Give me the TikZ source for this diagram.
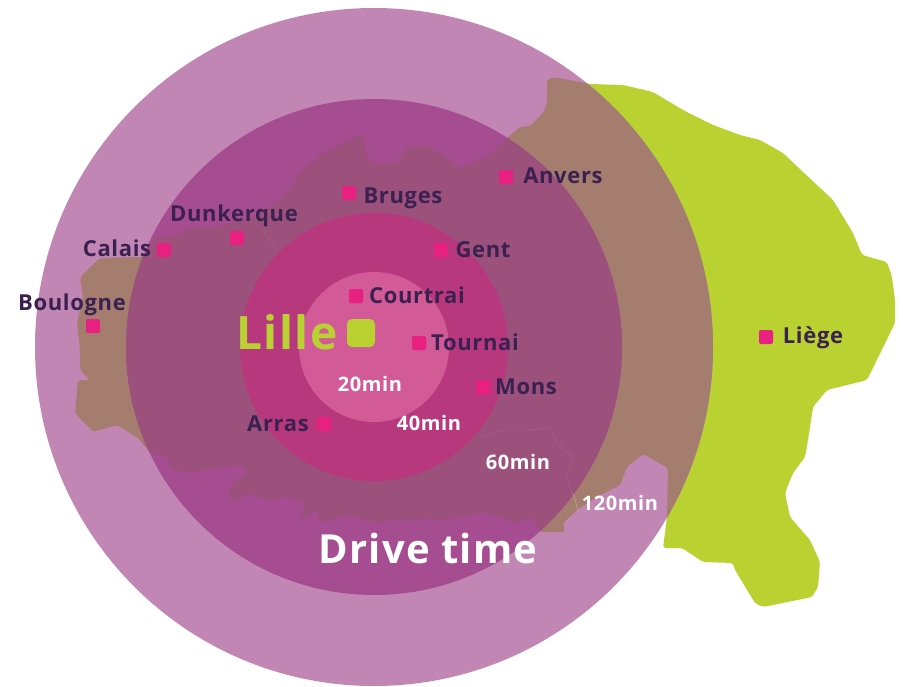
\documentclass[tikz,border=0pt]{standalone}
\usepackage{fontspec}
\setmainfont[LetterSpace=3]{Open Sans}
\definecolor{ringA}{HTML}{C286B4}
\definecolor{ringB}{HTML}{A64D91}
\definecolor{ringC}{HTML}{B8387E}
\definecolor{ringD}{HTML}{D25A96}
\definecolor{mapGreen}{HTML}{B9D131}
\definecolor{mapA}{HTML}{A47D6F}
\definecolor{mapB}{HTML}{9C507C}
\definecolor{cityPink}{HTML}{E8207F}
\definecolor{cityInk}{HTML}{3B2150}
\tikzset{
  citydot/.style={fill=cityPink,rounded corners=2pt,minimum size=14pt,inner sep=0pt},
  cityname/.style={text=cityInk,font=\fontsize{22}{24}\selectfont\bfseries,inner sep=0pt},
  timelabel/.style={text=white,font=\fontsize{20}{24}\selectfont\bfseries,inner sep=0pt},
  mapfill/.style={rounded corners=3pt},
  faintline/.style={draw=white,draw opacity=0.07,line width=0.8pt}
}
\newcommand{\mapoutline}{
 (100,258) -- (143,257) -- (155,238) -- (178,235) -- (193,227) -- (213,227) -- (253,217) -- (283,197) -- (300,173) -- (323,153) -- (363,133) -- (367,157) -- (373,163) -- (397,163) -- (407,147) -- (427,145) -- (450,160) -- (460,168) -- (487,157) -- (508,137) -- (520,127) -- (530,126) -- (543,113) -- (547,103) -- (547,80) -- (553,77) -- (590,84) -- (623,85) -- (653,92) -- (683,110) -- (713,125) -- (740,135) -- (760,140) -- (783,153) -- (803,172) -- (833,200) -- (853,233) -- (862,255) -- (887,262) -- (892,277) -- (895,300) -- (895,323) -- (867,380) -- (827,390) -- (813,407) -- (808,440) -- (805,457) -- (793,473) -- (785,493) -- (790,517) -- (810,540) -- (820,562) -- (818,587) -- (812,597) -- (763,607) -- (755,603) -- (735,570) -- (733,563) -- (703,562) -- (682,548) -- (663,548) -- (667,517) -- (668,468) -- (643,454) -- (627,467) -- (620,485) -- (597,497) -- (577,510) -- (563,523) -- (565,532) -- (540,532) -- (533,517) -- (517,523) -- (497,516) -- (483,512) -- (470,515) -- (443,520) -- (425,518) -- (410,522) -- (395,519) -- (380,523) -- (347,515) -- (320,523) -- (317,510) -- (300,520) -- (305,503) -- (290,497) -- (267,500) -- (247,493) -- (237,502) -- (228,497) -- (233,483) -- (248,473) -- (240,465) -- (220,467) -- (193,472) -- (173,470) -- (167,457) -- (150,453) -- (138,438) -- (117,425) -- (93,432) -- (75,413) -- (78,380) -- (90,380) -- (80,370) -- (80,350) -- (77,323) -- (83,297) -- (80,277) -- cycle}
\begin{document}
\begin{tikzpicture}[x=1pt,y=-1pt]
\useasboundingbox (0,0) rectangle (903,686);
\fill[white] (0,0) rectangle (903,686);
% map outside the rings
\fill[mapGreen,mapfill] \mapoutline;
% outer ring and the map inside it
\fill[ringA] (374,347) circle[radius=339];
\begin{scope}
  \clip (374,347) circle[radius=339];
  \fill[mapA,mapfill] \mapoutline;
\end{scope}
% second ring
\fill[ringB] (374,347) circle[radius=248];
\begin{scope}
  \clip (374,347) circle[radius=248];
  \fill[mapB,mapfill] \mapoutline;
\end{scope}
% inner rings
\fill[ringC] (374,347) circle[radius=134];
\fill[ringD] (374,347) circle[radius=75];
% faint internal borders of the map
\draw[faintline] (480,437) -- (503,430) -- (530,430) -- (550,428) -- (557,443) -- (573,457) -- (567,477) -- (573,497);
\draw[draw=white,draw opacity=0.3,line width=0.6pt] (573,493) -- (578,510);
\draw[faintline] (263,230) -- (277,250);
% cities
\node[citydot] (bruges) at (349,193) {};
\node[citydot] (anvers) at (506,177) {};
\node[citydot] (dunkerque) at (237,238) {};
\node[citydot] (calais) at (164,250) {};
\node[citydot] (boulogne) at (93,326) {};
\node[citydot] (courtrai) at (356,296) {};
\node[citydot] (gent) at (441,250) {};
\node[citydot] (tournai) at (419,343) {};
\node[citydot] (mons) at (483,387) {};
\node[citydot] (arras) at (324,424) {};
\node[citydot] (liege) at (766,337) {};
\node[fill=mapGreen,rounded corners=5pt,minimum size=28pt,inner sep=0pt] (lillebox) at (361,333) {};
% names
\node[cityname] (tbruges) at (403,198) {Bruges};
\node[cityname] (tanvers) at (563,176) {Anvers};
\node[cityname] (tdunkerque) at (234,216) {Dunkerque};
\node[cityname] (tcalais) at (117,248) {Calais};
\node[cityname] (tboulogne) at (72,305) {Boulogne};
\node[cityname] (tcourtrai) at (417,295) {Courtrai};
\node[cityname] (tgent) at (483,250) {Gent};
\node[cityname] (ttournai) at (475,342) {Tournai};
\node[cityname] (tmons) at (526,387) {Mons};
\node[cityname] (tarras) at (278,424) {Arras};
\node[cityname] (tliege) at (813,338) {Liège};
\node[text=mapGreen,font=\fontsize{46}{50}\selectfont\bfseries,inner sep=0pt] (tlille) at (287,332) {Lille};
\node[timelabel] (t20) at (370,384) {20min};
\node[timelabel] (t40) at (429,423) {40min};
\node[timelabel] (t60) at (518,462) {60min};
\node[timelabel] (t120) at (620,503) {120min};
\node[text=white,font=\fontsize{40}{44}\selectfont\bfseries,inner sep=0pt] (tdrive) at (428,548) {Drive time};
\end{tikzpicture}
\end{document}
